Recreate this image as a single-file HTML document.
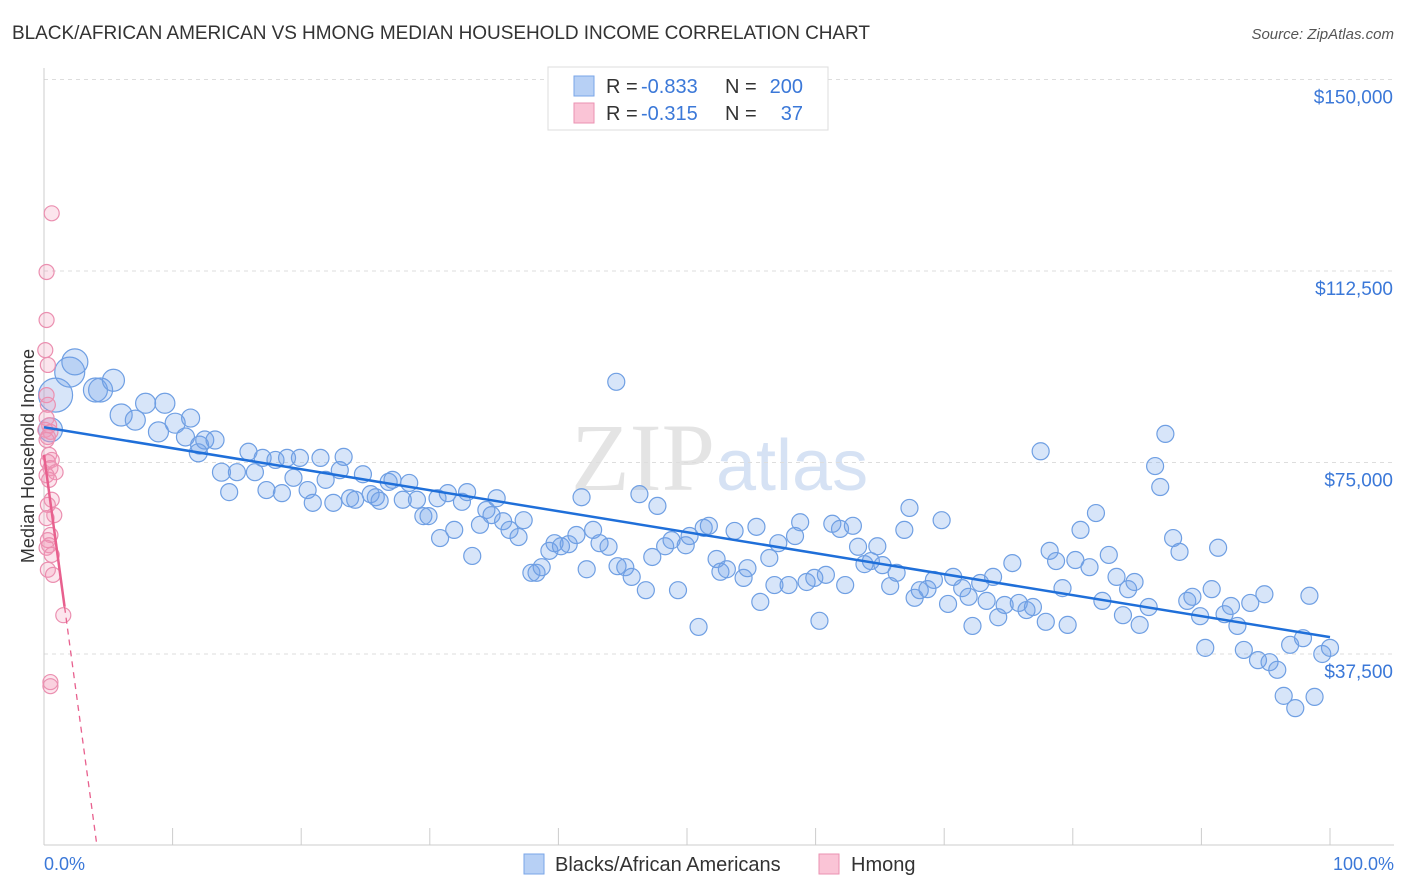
<!DOCTYPE html>
<html><head><meta charset="utf-8"><style>
body{margin:0;background:#fff;font-family:"Liberation Sans",sans-serif;}
svg{display:block}
</style></head><body>
<svg id="chart" width="1406" height="892">
<text x="12" y="39" font-size="19" fill="#333" textLength="858">BLACK/AFRICAN AMERICAN VS HMONG MEDIAN HOUSEHOLD INCOME CORRELATION CHART</text>
<text x="1394" y="39" font-size="15" fill="#555" font-style="italic" text-anchor="end">Source: ZipAtlas.com</text>
<text x="715" y="490" font-size="96" fill="#e4e4e4" text-anchor="end" font-family="Liberation Serif,serif">ZIP</text>
<text x="716" y="490" font-size="72" fill="#d6e2f4">atlas</text>
<g id="grid"></g><g id="axes"></g><g id="pts"></g><g id="lines"></g>
<text x="34" y="456" font-size="18" fill="#333" text-anchor="middle" transform="rotate(-90 34 456)">Median Household Income</text>
<text x="44" y="870" font-size="18" fill="#3b78d8">0.0%</text>
<text x="1394" y="870" font-size="18" fill="#3b78d8" text-anchor="end">100.0%</text>
<g font-size="20">
<rect x="548" y="67" width="280" height="63" fill="#fff" stroke="#ddd"/>
<rect x="574" y="76" width="20" height="20" fill="#b7d0f5" stroke="#7aa6e8"/>
<rect x="574" y="103" width="20" height="20" fill="#fac4d6" stroke="#eb92b2"/>
<text x="606" y="93" fill="#333">R =</text><text x="641" y="93" fill="#3b78d8">-0.833</text>
<text x="725" y="93" fill="#333">N =</text><text x="803" y="93" fill="#3b78d8" text-anchor="end">200</text>
<text x="606" y="120" fill="#333">R =</text><text x="641" y="120" fill="#3b78d8">-0.315</text>
<text x="725" y="120" fill="#333">N =</text><text x="803" y="120" fill="#3b78d8" text-anchor="end">37</text>
</g>
<g>
<rect x="524" y="854" width="20" height="20" fill="#b7d0f5" stroke="#7aa6e8"/>
<text x="555" y="871" font-size="20" fill="#333">Blacks/African Americans</text>
<rect x="819" y="854" width="20" height="20" fill="#fac4d6" stroke="#eb92b2"/>
<text x="851" y="871" font-size="20" fill="#333">Hmong</text>
</g>
</svg>
<script>
const yTicks=[37.5,75,112.5,150];
const yTickLabels=["$37,500","$75,000","$112,500","$150,000"];
const blueX=[0.9,2.0,2.4,0.5,4.0,4.4,5.4,6.0,7.1,7.9,8.9,9.4,10.2,11.4,11.0,12.1,12.5,13.3,12.0,13.8,14.4,15.0,15.9,16.4,17.0,17.3,18.0,18.5,18.9,19.4,19.9,20.5,20.9,21.5,21.9,22.5,23.0,23.3,23.8,24.2,24.8,25.4,25.8,26.1,26.8,27.1,27.9,28.4,29.0,29.5,29.9,30.6,30.8,31.4,31.9,32.5,32.9,33.3,33.9,34.4,34.8,35.2,35.7,36.2,36.9,37.3,37.9,38.3,38.7,39.3,39.7,40.2,40.8,41.4,41.8,42.2,42.7,43.2,43.9,44.5,44.6,45.2,45.7,46.3,46.8,47.3,47.7,48.3,48.8,49.3,49.9,50.2,50.9,51.3,51.7,52.3,52.6,53.1,53.7,54.4,54.7,55.4,55.7,56.4,56.8,57.1,57.9,58.4,58.8,59.3,59.9,60.3,60.8,61.3,61.9,62.3,62.9,63.3,63.8,64.3,64.8,65.2,65.8,66.3,66.9,67.3,67.7,68.1,68.7,69.2,69.8,70.3,70.7,71.4,71.9,72.2,72.8,73.3,73.8,74.2,74.7,75.3,75.8,76.4,76.9,77.5,77.9,78.2,78.7,79.2,79.6,80.2,80.6,81.3,81.8,82.3,82.8,83.4,83.9,84.3,84.8,85.2,85.9,86.4,86.8,87.2,87.8,88.3,88.9,89.3,89.9,90.3,90.8,91.3,91.8,92.3,92.8,93.3,93.8,94.4,94.9,95.3,95.9,96.4,96.9,97.3,97.9,98.4,98.8,99.4,100.0];
const blueY=[88.2,92.7,94.7,81.4,89.2,89.2,91.1,84.3,83.3,86.6,81.0,86.6,82.7,83.7,80.0,78.4,79.4,79.4,76.9,73.1,69.2,73.1,77.1,73.1,75.9,69.6,75.5,69.0,75.9,72.0,75.9,69.6,67.1,75.9,71.6,67.1,73.5,76.1,68.0,67.7,72.7,68.8,68.2,67.5,71.2,71.6,67.7,71.0,67.7,64.5,64.5,68.0,60.2,69.0,61.8,67.3,69.2,56.7,62.8,65.7,64.7,68.0,63.5,61.8,60.4,63.7,53.4,53.4,54.5,57.7,59.2,58.6,59.0,60.8,68.2,54.1,61.8,59.2,58.5,90.8,54.7,54.5,52.6,68.8,50.0,56.5,66.5,58.6,59.8,50.0,58.8,60.6,42.8,62.2,62.6,56.1,53.6,54.1,61.6,52.4,54.3,62.4,47.7,56.3,51.0,59.2,51.0,60.6,63.3,51.6,52.4,44.0,53.0,63.0,62.0,51.0,62.6,58.5,55.1,55.7,58.6,54.9,50.8,53.4,61.8,66.1,48.5,50.0,50.2,52.0,63.7,47.3,52.6,50.4,48.7,43.0,51.4,47.9,52.6,44.7,47.1,55.3,47.5,46.1,46.7,77.2,43.8,57.7,55.7,50.4,43.2,55.9,61.8,54.5,65.1,47.9,56.9,52.6,45.1,50.2,51.6,43.2,46.7,74.3,70.2,80.6,60.2,57.5,47.9,48.7,44.9,38.7,50.2,58.3,45.3,46.9,43.0,38.3,47.5,36.3,49.2,35.9,34.4,29.3,39.3,26.9,40.6,48.9,29.1,37.5,38.7];
const blueSize=[17,15,13,12,12,12,11,11,10,10,10,10,10,9,9,9,9,9,9,9];
const pinkX=[0.6,0.2,0.2,0.1,0.3,0.2,0.3,0.2,0.4,0.1,0.5,0.3,0.2,0.4,0.6,0.3,0.5,0.9,0.2,0.4,0.6,0.3,0.8,0.2,0.5,0.3,0.4,0.2,0.6,0.3,0.7,1.5,0.5,0.5];
const pinkY=[123.8,112.3,102.9,97.0,94.1,88.2,86.3,83.7,82.3,81.4,81.0,80.0,79.4,76.5,75.5,75.1,73.9,73.1,72.5,71.6,67.7,66.7,64.7,64.1,60.8,59.8,58.8,58.3,56.9,54.0,53.0,45.1,32.0,31.2];
const blueFit=[81.9,40.8];
const pinkFit=[76.5,-18.6];
const NS="http://www.w3.org/2000/svg";
const X=p=>44+p*12.86;
const Y=v=>654-(v-37.5)*5.1067;
function mk(t,a,parent){const e=document.createElementNS(NS,t);for(const k in a)e.setAttribute(k,a[k]);document.getElementById(parent).appendChild(e);return e;}
yTicks.forEach((t,i)=>{
 const g=mk('line',{x1:44,x2:1394,y1:Y(t),y2:Y(t),stroke:'#ddd','stroke-dasharray':'4,4'},'grid');
 
 
 const l=mk('text',{x:1393,y:Y(t)+24,'font-size':19,fill:'#3b78d8','text-anchor':'end'},'grid');
 l.textContent=yTickLabels[i];
 
 
});
mk('line',{x1:44,x2:44,y1:68,y2:845,stroke:'#ccc'},'axes');
mk('line',{x1:44,x2:1394,y1:845,y2:845,stroke:'#ccc'},'axes');
for(let i=0;i<=10;i++){const t=mk('line',{x1:X(i*10),x2:X(i*10),y1:828,y2:845,stroke:'#ccc'},'axes');
 
 }
blueX.forEach((x,i)=>{
 const c=mk('circle',{cx:X(x),cy:Y(blueY[i]),r:blueSize[i]||8.5,fill:'rgba(110,160,235,0.28)',stroke:'#6f9fe3','stroke-width':1.2},'pts');
 
 
});
pinkX.forEach((x,i)=>{
 const c=mk('circle',{cx:X(x),cy:Y(pinkY[i]),r:7.5,fill:'rgba(245,150,185,0.25)',stroke:'#eb8fb0','stroke-width':1.2},'pts');
 
 
});
const bl=mk('line',{x1:X(0),y1:Y(blueFit[0]),x2:X(100),y2:Y(blueFit[1]),stroke:'#1f6fd9','stroke-width':2.5},'lines');


const pl=mk('line',{x1:X(0),y1:Y(pinkFit[0]),x2:X(1.6),y2:Y(pinkFit[0]+pinkFit[1]*1.6),stroke:'#e8608e','stroke-width':2.5},'lines');


const xEnd=-pinkFit[0]/pinkFit[1];
const pd=mk('line',{x1:X(1.6),y1:Y(pinkFit[0]+pinkFit[1]*1.6),x2:X(xEnd),y2:Y(0),stroke:'#e8608e','stroke-width':1.3,'stroke-dasharray':'6,5'},'lines');


</script>
</body></html>
